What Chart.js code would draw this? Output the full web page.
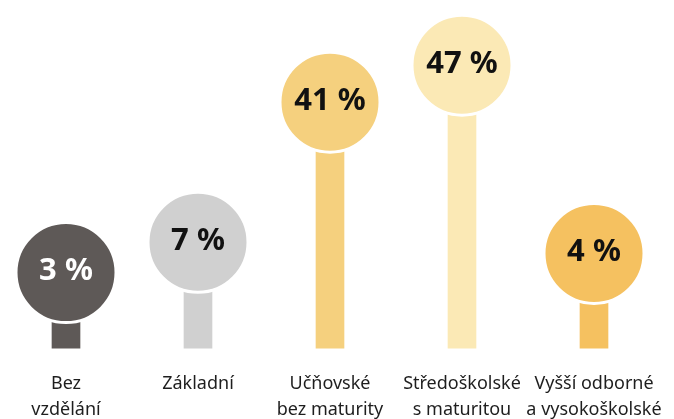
<!DOCTYPE html>
<html>
<head>
<meta charset="utf-8">
<script src="https://cdn.jsdelivr.net/npm/chart.js@4"></script>
<style>
  html, body { margin: 0; padding: 0; background: #fff; }
  #wrap { width: 674px; height: 419px; }
</style>
</head>
<body>
<div id="wrap"><canvas id="chart"></canvas></div>
<script>
const categories = [
  ["Bez", "vzdělání"],
  ["Základní"],
  ["Učňovské", "bez maturity"],
  ["Středoškolské", "s maturitou"],
  ["Vyšší odborné", "a vysokoškolské"]
];
// share of people, %
const shares = [3, 7, 41, 47, 4];
// height of each lollipop as drawn (not proportional in the original graphic)
const levels = [21.8, 30.5, 70.7, 81.3, 27.3];
const colors = ["#5e5957", "#d0d0d0", "#f5d07e", "#fbe9b5", "#f5c160"];
const textColors = ["#ffffff", "#111111", "#111111", "#111111", "#111111"];

const FONT = "'Noto Sans', sans-serif";

// write the percentage inside every circle
const circleLabels = {
  id: "circleLabels",
  afterDatasetsDraw(chart) {
    const ctx = chart.ctx;
    const meta = chart.getDatasetMeta(1);
    ctx.save();
    ctx.font = "bold 31px " + FONT;
    ctx.textAlign = "center";
    ctx.textBaseline = "middle";
    meta.data.forEach((pt, i) => {
      ctx.fillStyle = textColors[i];
      ctx.fillText(shares[i] + " %", pt.x, pt.y - 1);
    });
    ctx.restore();
  }
};

new Chart(document.getElementById("chart"), {
  type: "bar",
  data: {
    labels: categories,
    datasets: [
      {
        label: "stick",
        data: levels,
        backgroundColor: colors,
        barThickness: 28,
        order: 2
      },
      {
        type: "line",
        label: "circle",
        data: levels,
        showLine: false,
        pointRadius: 50,
        pointHoverRadius: 50,
        pointBackgroundColor: colors,
        pointBorderColor: "#ffffff",
        pointBorderWidth: 3,
        pointHoverBorderWidth: 3,
        clip: false,
        order: 1
      }
    ]
  },
  options: {
    responsive: true,
    maintainAspectRatio: false,
    animation: false,
    layout: { autoPadding: false, padding: { left: 0, right: 14, top: 0, bottom: -26 } },
    plugins: { legend: { display: false }, tooltip: { enabled: false } },
    scales: {
      y: { display: false, min: 0, max: 100 },
      x: {
        grid: { display: false, drawTicks: false },
        border: { display: false },
        // long labels should not squeeze the categories
        afterFit(scale) {
          scale.paddingLeft = 0;
          scale.paddingRight = 0;
        },
        ticks: {
          autoSkip: false,
          maxRotation: 0,
          padding: 23,
          color: "#1e1e1e",
          font: { family: FONT, size: 18, lineHeight: 1.4 }
        }
      }
    }
  },
  plugins: [circleLabels]
});
</script>
</body>
</html>
